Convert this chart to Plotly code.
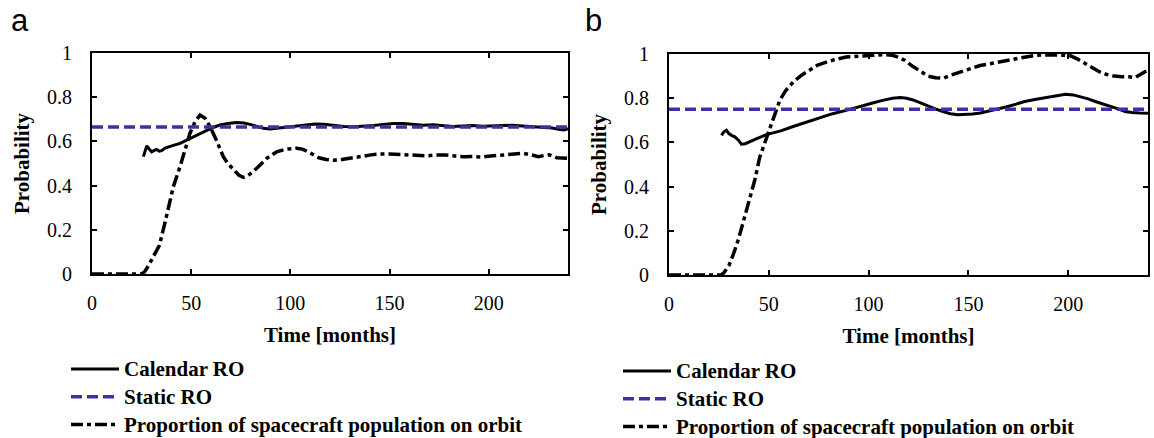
import plotly.graph_objects as go

# ---------------- data ----------------
# Panel a
a_cal_t = [25.9, 26.8, 27.6, 28.8, 30.1, 31.4, 32.6, 33.9, 35.1, 36.8, 38.5, 41.4, 44.4, 47.5,
           51.1, 54.5, 57.8, 61.0, 64.5, 68.5, 73.0, 76.5, 79.7, 83.0, 86.4, 89.8, 93.1, 97.0,
           100.5, 104.0, 108.0, 112.5, 117.0, 122.0, 127.0, 132.0, 137.0, 142.0, 147.0, 152.0,
           157.0, 162.0, 167.0, 172.0, 177.0, 182.0, 187.0, 192.0, 197.0, 202.0, 207.0, 212.0,
           217.0, 222.0, 227.0, 232.0, 236.0, 238.0, 240.0]
a_cal_v = [0.531, 0.562, 0.579, 0.566, 0.553, 0.559, 0.564, 0.556, 0.558, 0.570, 0.576, 0.583, 0.591, 0.605,
           0.621, 0.637, 0.652, 0.663, 0.674, 0.681, 0.685, 0.683, 0.677, 0.668, 0.659, 0.656, 0.659, 0.664,
           0.667, 0.670, 0.673, 0.679, 0.678, 0.672, 0.667, 0.666, 0.668, 0.672, 0.677, 0.681,
           0.681, 0.677, 0.673, 0.675, 0.671, 0.667, 0.670, 0.672, 0.669, 0.671, 0.674, 0.673,
           0.670, 0.668, 0.666, 0.661, 0.654, 0.652, 0.658]

a_static_t = [0, 240]
a_static_v = [0.665, 0.665]

a_prop_t = [0, 25, 26.5, 28.3, 31, 34, 37, 39.5, 41, 44.4, 47, 49.4, 52, 54.5, 57, 59.5, 62.5,
            66.2, 68.5, 71.3, 74, 76.3, 78.5, 81.3, 84.5, 88.1, 93.1, 98, 103.2, 106, 108.8,
            111.5, 114.4, 118, 121.9, 126, 131.3, 136, 140.6, 145, 150, 155, 159.4, 164, 168.8,
            173, 178.2, 183, 187.5, 192, 196.9, 201, 206.3, 212, 217.5, 221, 225, 228, 230.6,
            234.4, 240]
a_prop_v = [0, 0, 0.01, 0.035, 0.08, 0.13, 0.24, 0.335, 0.395, 0.486, 0.57, 0.637, 0.69, 0.719,
            0.705, 0.667, 0.61, 0.531, 0.5, 0.471, 0.448, 0.437, 0.445, 0.463, 0.49, 0.523, 0.553,
            0.565, 0.569, 0.565, 0.554, 0.54, 0.526, 0.518, 0.515, 0.518, 0.524, 0.532, 0.539,
            0.543, 0.543, 0.54, 0.537, 0.534, 0.535, 0.538, 0.539, 0.534, 0.531, 0.532, 0.529,
            0.534, 0.539, 0.543, 0.546, 0.54, 0.531, 0.536, 0.539, 0.526, 0.524]

# Panel b
b_cal_t = [26.3, 27.5, 28.8, 30, 31.3, 33, 34.8, 36.3, 38.2, 40.5, 44, 48.8, 52, 56, 62.2, 68,
           75.5, 82, 88.8, 95, 102, 107, 112, 116, 119, 122.3, 126, 129.8, 133.5, 137.2, 141,
           144.7, 148.5, 152.1, 156, 159.6, 164, 168.9, 173.5, 178.2, 184, 189.4, 194, 198.7,
           202.5, 206.1, 210, 213.6, 217, 221, 225, 228.5, 232, 236, 240]
b_cal_v = [0.632, 0.648, 0.655, 0.64, 0.632, 0.625, 0.61, 0.592, 0.594, 0.602, 0.617, 0.635,
           0.642, 0.652, 0.672, 0.69, 0.712, 0.73, 0.745, 0.762, 0.778, 0.79, 0.8, 0.803, 0.8,
           0.792, 0.778, 0.766, 0.752, 0.74, 0.73, 0.725, 0.725, 0.728, 0.733, 0.74, 0.75, 0.76,
           0.772, 0.785, 0.795, 0.803, 0.81, 0.818, 0.815, 0.808, 0.797, 0.785, 0.776, 0.766,
           0.752, 0.74, 0.735, 0.733, 0.732]

b_static_t = [0, 240]
b_static_v = [0.75, 0.75]

b_prop_t = [0, 26, 27.5, 30, 32.5, 34.8, 37.5, 40.4, 43, 45.5, 48, 50.5, 53, 55.5, 58.5, 62.2,
            66.6, 70.5, 74.5, 78.8, 83.5, 88.8, 93.5, 98.8, 104, 108.8, 112, 115, 118, 122.3,
            126, 129.8, 133.5, 137.2, 141.5, 146.5, 151, 155.9, 160.5, 165.2, 170, 174.6, 179,
            183.9, 188.5, 193.2, 197, 200.7, 204.5, 208.1, 212, 215.6, 219, 223, 227, 230.4,
            233.5, 236.5, 240]
b_prop_v = [0, 0, 0.01, 0.042, 0.1, 0.162, 0.25, 0.342, 0.43, 0.534, 0.6, 0.655, 0.725, 0.79,
            0.835, 0.873, 0.905, 0.929, 0.95, 0.963, 0.976, 0.986, 0.99, 0.994, 0.995, 0.997,
            0.994, 0.985, 0.972, 0.943, 0.92, 0.9, 0.893, 0.89, 0.905, 0.92, 0.935, 0.948, 0.955,
            0.965, 0.972, 0.98, 0.988, 0.994, 0.996, 0.996, 0.997, 0.994, 0.978, 0.958, 0.938,
            0.92, 0.908, 0.9, 0.897, 0.897, 0.893, 0.91, 0.928]

x_ticks = [0, 50, 100, 150, 200]
y_ticks = [0, 0.2, 0.4, 0.6, 0.8, 1]
y_ticktext = ["0", "0.2", "0.4", "0.6", "0.8", "1"]

names = ["Calendar RO", "Static RO", "Proportion of spacecraft population on orbit"]

# ---------------- layout helpers ----------------
W, H = 1154, 438
ML, MR, MT, MB = 92, 6, 53, 163
PW = W - ML - MR
PH = H - MT - MB


def px(x):
    return (x - ML) / PW


def py(y):
    return (H - MB - y) / PH


SERIF = "Liberation Serif, Times New Roman, Times, serif"
BLUE = "#3B34A0"
LEG_TEXT = 21      # rendered size of legend labels
LEG_ROW = 19       # legend font size that sets the row pitch


def legname(s):
    return '<span style="font-size:%dpx">%s</span>' % (LEG_TEXT, s)


fig = go.Figure()

panels = [
    ("x", "y", "legend", a_cal_t, a_cal_v, a_static_t, a_static_v, a_prop_t, a_prop_v),
    ("x2", "y2", "legend2", b_cal_t, b_cal_v, b_static_t, b_static_v, b_prop_t, b_prop_v),
]

for xa, ya, lg, ct, cv, st, sv, pt, pv in panels:
    fig.add_trace(go.Scatter(x=ct, y=cv, mode="lines", name=legname(names[0]), xaxis=xa, yaxis=ya,
                             legend=lg, legendrank=1,
                             line=dict(color="black", width=3)))
    fig.add_trace(go.Scatter(x=pt, y=pv, mode="lines", name=legname(names[2]), xaxis=xa, yaxis=ya,
                             legend=lg, legendrank=3,
                             line=dict(color="black", width=3.5, dash="12px,4px,4px,4px")))
    fig.add_trace(go.Scatter(x=st, y=sv, mode="lines", name=legname(names[1]), xaxis=xa, yaxis=ya,
                             legend=lg, legendrank=2,
                             line=dict(color=BLUE, width=3.5, dash="11px,5px")))

common_axis = dict(
    showline=True, linecolor="black", linewidth=2, mirror="allticks",
    ticks="inside", ticklen=5, tickwidth=1.5, tickcolor="black",
    showgrid=False, zeroline=False, automargin=False,
    tickfont=dict(family=SERIF, size=20, color="black", weight="normal"),
)

xcommon = dict(common_axis, range=[0, 240], tickmode="array", tickvals=x_ticks,
               ticklabelstandoff=10,
               title=dict(text="Time [months]", standoff=14,
                          font=dict(family=SERIF, size=21, color="black", weight="bold")))
ycommon = dict(common_axis, range=[0, 1], tickmode="array", tickvals=y_ticks,
               ticktext=y_ticktext, ticklabelstandoff=14,
               title=dict(text="Probability", standoff=12,
                          font=dict(family=SERIF, size=21, color="black", weight="bold")))

legend_common = dict(
    xanchor="left", yanchor="top", bgcolor="rgba(0,0,0,0)", borderwidth=0,
    font=dict(family=SERIF, size=LEG_ROW, color="black", weight="bold"),
    traceorder="normal", tracegroupgap=0, itemwidth=48,
)

fig.update_layout(
    width=W, height=H,
    font=dict(family=SERIF, color="black"),
    margin=dict(l=ML, r=MR, t=MT, b=MB, pad=0, autoexpand=False),
    paper_bgcolor="white", plot_bgcolor="white",
    xaxis=dict(xcommon, domain=[px(92), px(568)], anchor="y"),
    yaxis=dict(ycommon, domain=[py(274), py(53)], anchor="x"),
    xaxis2=dict(xcommon, domain=[px(669), px(1148)], anchor="y2"),
    yaxis2=dict(ycommon, domain=[py(275), py(54)], anchor="x2"),
    legend=dict(legend_common, x=px(66), y=py(350.2)),
    legend2=dict(legend_common, x=px(618), y=py(352.2)),
    showlegend=True,
    annotations=[
        dict(text="a", x=px(9), y=py(21), xref="paper", yref="paper",
             xanchor="left", yanchor="middle", showarrow=False,
             font=dict(family="Liberation Sans", size=31, color="black")),
        dict(text="b", x=px(583), y=py(21), xref="paper", yref="paper",
             xanchor="left", yanchor="middle", showarrow=False,
             font=dict(family="Liberation Sans", size=31, color="black")),
    ],
)

fig.write_html("out.html")
